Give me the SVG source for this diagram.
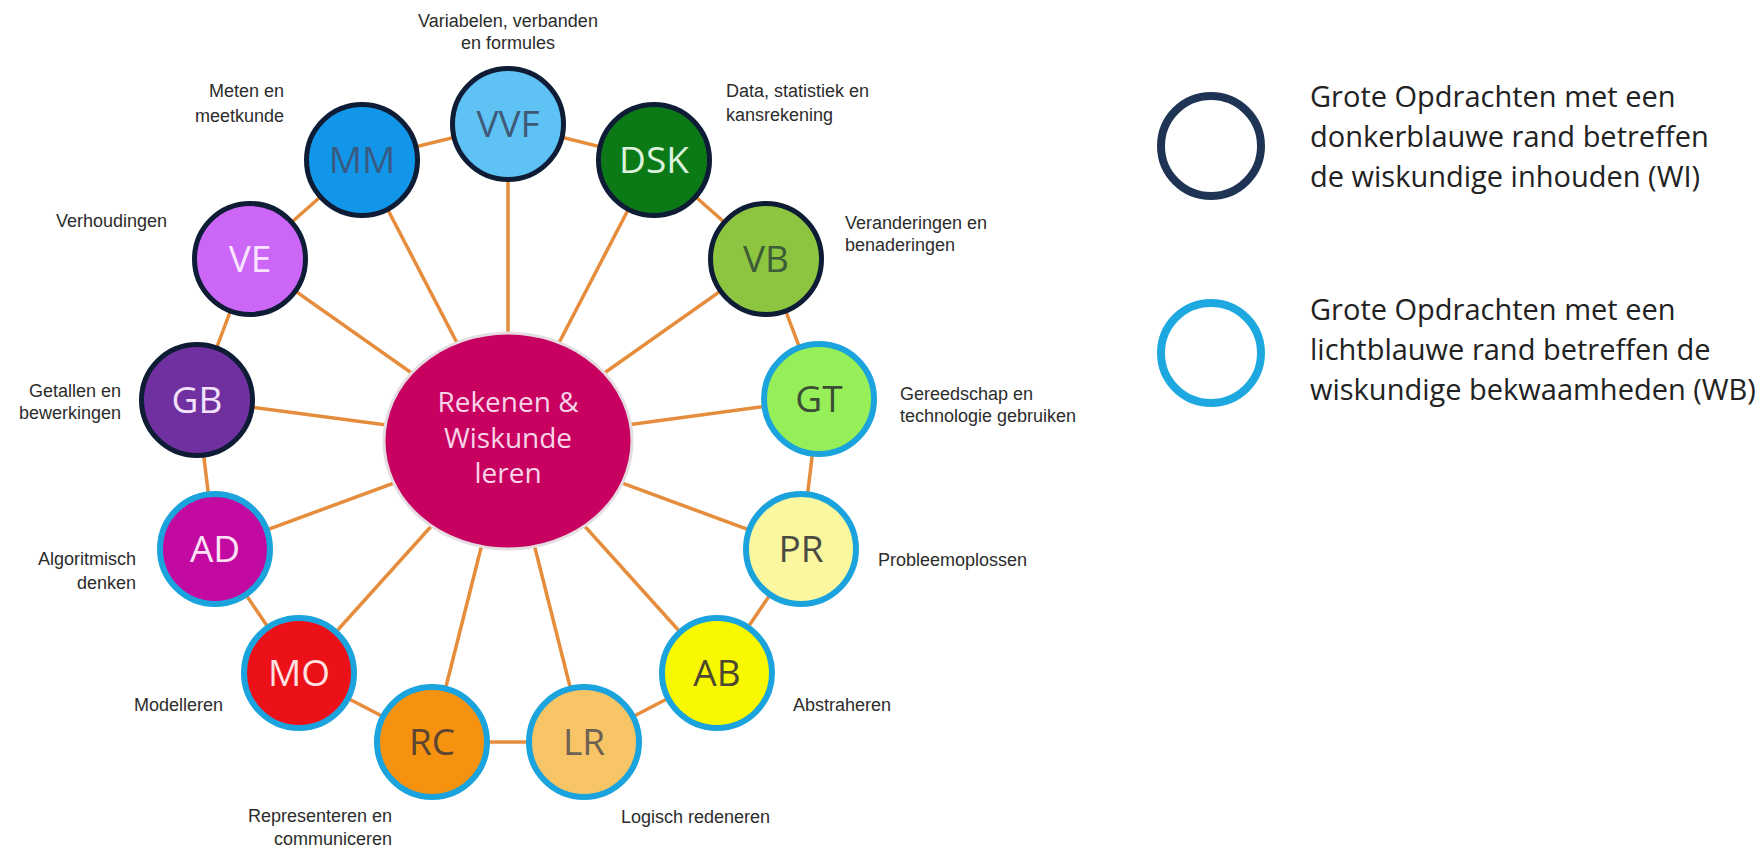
<svg xmlns="http://www.w3.org/2000/svg" width="1760" height="849" viewBox="0 0 1760 849">
  <style>
    .link { stroke: #e58d3c; stroke-width: 3.5; fill: none; }
    .wi { stroke: #0f1c36; stroke-width: 5; }
    .wb { stroke: #1aa3dc; stroke-width: 6; }
    .code { font-family: "Open Sans", "Noto Sans", sans-serif; font-size: 37px; text-anchor: middle; }
    .lbl { font-family: "Liberation Sans", Arial, sans-serif; font-size: 18px; fill: #2c2c2c; }
    .r { text-anchor: end; }
    .c { text-anchor: middle; }
    .hub { font-family: "Open Sans", "Noto Sans", sans-serif; font-size: 28px; fill: #f9d3e8; text-anchor: middle; }
    .legend { font-family: "Open Sans", "Noto Sans", sans-serif; font-size: 29px; fill: #222222; }
  </style>

  <rect width="1760" height="849" fill="#ffffff"/>

  <!-- spokes from the hub and the outer ring -->
  <g id="connectors">
    <line class="link" x1="508" y1="441" x2="508" y2="124"/>
    <line class="link" x1="508" y1="441" x2="362" y2="160"/>
    <line class="link" x1="508" y1="441" x2="654" y2="160"/>
    <line class="link" x1="508" y1="441" x2="250" y2="259"/>
    <line class="link" x1="508" y1="441" x2="766" y2="259"/>
    <line class="link" x1="508" y1="441" x2="197" y2="400"/>
    <line class="link" x1="508" y1="441" x2="819" y2="399"/>
    <line class="link" x1="508" y1="441" x2="215" y2="549"/>
    <line class="link" x1="508" y1="441" x2="801" y2="549"/>
    <line class="link" x1="508" y1="441" x2="299" y2="673"/>
    <line class="link" x1="508" y1="441" x2="717" y2="673"/>
    <line class="link" x1="508" y1="441" x2="432" y2="742"/>
    <line class="link" x1="508" y1="441" x2="584" y2="742"/>
    <polygon class="link" points="508,124 654,160 766,259 819,399 801,549 717,673 584,742 432,742 299,673 215,549 197,400 250,259 362,160"/>
  </g>

  <g id="hub">
    <ellipse cx="508" cy="441" rx="124" ry="108" fill="#c80060" stroke="#e4dde1" stroke-width="3"/>
    <text class="hub" x="508" y="412">Rekenen &amp;</text>
    <text class="hub" x="508" y="448">Wiskunde</text>
    <text class="hub" x="508" y="483">leren</text>
  </g>

  <g id="node-vvf">
    <circle class="wi" cx="508" cy="124" r="55.5" fill="#5ec3f4"/>
    <text class="code" x="508" y="137" fill="#3f5a78">VVF</text>
    <text class="lbl c" x="508" y="27">Variabelen, verbanden</text>
    <text class="lbl c" x="508" y="49">en formules</text>
  </g>
  <g id="node-mm">
    <circle class="wi" cx="362" cy="160" r="55.5" fill="#1196ea"/>
    <text class="code" x="362" y="173" fill="#3a5a82">MM</text>
    <text class="lbl r" x="284" y="97">Meten en</text>
    <text class="lbl r" x="284" y="122">meetkunde</text>
  </g>
  <g id="node-dsk">
    <circle class="wi" cx="654" cy="160" r="55.5" fill="#0b7a16"/>
    <text class="code" x="654" y="173" fill="#dcf2dc">DSK</text>
    <text class="lbl" x="726" y="97">Data, statistiek en</text>
    <text class="lbl" x="726" y="121">kansrekening</text>
  </g>
  <g id="node-ve">
    <circle class="wi" cx="250" cy="259" r="55.5" fill="#cb66f6"/>
    <text class="code" x="250" y="272" fill="#f8e4ff">VE</text>
    <text class="lbl r" x="167" y="227">Verhoudingen</text>
  </g>
  <g id="node-vb">
    <circle class="wi" cx="766" cy="259" r="55.5" fill="#8dc540"/>
    <text class="code" x="766" y="272" fill="#3e5c36">VB</text>
    <text class="lbl" x="845" y="229">Veranderingen en</text>
    <text class="lbl" x="845" y="251">benaderingen</text>
  </g>
  <g id="node-gb">
    <circle class="wi" cx="197" cy="400" r="55.5" fill="#7030a0"/>
    <text class="code" x="197" y="413" fill="#f2e2fa">GB</text>
    <text class="lbl r" x="121" y="397">Getallen en</text>
    <text class="lbl r" x="121" y="419">bewerkingen</text>
  </g>
  <g id="node-gt">
    <circle class="wb" cx="819" cy="399" r="55" fill="#96ef58"/>
    <text class="code" x="819" y="412" fill="#3c4e36">GT</text>
    <text class="lbl" x="900" y="400">Gereedschap en</text>
    <text class="lbl" x="900" y="422">technologie gebruiken</text>
  </g>
  <g id="node-ad">
    <circle class="wb" cx="215" cy="549" r="55" fill="#c20aa0"/>
    <text class="code" x="215" y="562" fill="#fde2f6">AD</text>
    <text class="lbl r" x="136" y="565">Algoritmisch</text>
    <text class="lbl r" x="136" y="589">denken</text>
  </g>
  <g id="node-pr">
    <circle class="wb" cx="801" cy="549" r="55" fill="#fbf79e"/>
    <text class="code" x="801" y="562" fill="#4b4b42">PR</text>
    <text class="lbl" x="878" y="566">Probleemoplossen</text>
  </g>
  <g id="node-mo">
    <circle class="wb" cx="299" cy="673" r="55" fill="#ec1118"/>
    <text class="code" x="299" y="686" fill="#ffe2e2">MO</text>
    <text class="lbl r" x="223" y="711">Modelleren</text>
  </g>
  <g id="node-ab">
    <circle class="wb" cx="717" cy="673" r="55" fill="#f8f800"/>
    <text class="code" x="717" y="686" fill="#4c4832">AB</text>
    <text class="lbl" x="793" y="711">Abstraheren</text>
  </g>
  <g id="node-rc">
    <circle class="wb" cx="432" cy="742" r="55" fill="#f59310"/>
    <text class="code" x="432" y="755" fill="#5c4530">RC</text>
    <text class="lbl r" x="392" y="822">Representeren en</text>
    <text class="lbl r" x="392" y="845">communiceren</text>
  </g>
  <g id="node-lr">
    <circle class="wb" cx="584" cy="742" r="55" fill="#f8c566"/>
    <text class="code" x="584" y="755" fill="#6d6254">LR</text>
    <text class="lbl" x="621" y="823">Logisch redeneren</text>
  </g>

  <g id="legend-wi">
    <circle cx="1211" cy="146" r="50" fill="none" stroke="#1f3455" stroke-width="8"/>
    <text class="legend" x="1310" y="107">Grote Opdrachten met een</text>
    <text class="legend" x="1310" y="147">donkerblauwe rand betreffen</text>
    <text class="legend" x="1310" y="187">de wiskundige inhouden (WI)</text>
  </g>
  <g id="legend-wb">
    <circle cx="1211" cy="353" r="50" fill="none" stroke="#1ea8e0" stroke-width="8"/>
    <text class="legend" x="1310" y="320">Grote Opdrachten met een</text>
    <text class="legend" x="1310" y="360">lichtblauwe rand betreffen de</text>
    <text class="legend" x="1310" y="400">wiskundige bekwaamheden (WB)</text>
  </g>
</svg>
